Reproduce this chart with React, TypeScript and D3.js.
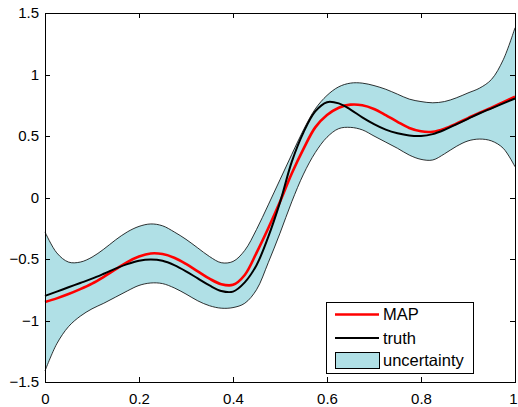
import React, { useEffect, useRef } from "react";
import * as d3 from "d3";

// sample positions along x
const xs = [
  0, 0.025, 0.05, 0.075, 0.1, 0.125, 0.15, 0.175, 0.2, 0.225, 0.25, 0.275, 0.3, 0.325,
  0.35, 0.375, 0.4, 0.425, 0.45, 0.475, 0.5, 0.525, 0.55, 0.575, 0.6, 0.625, 0.65,
  0.675, 0.7, 0.725, 0.75, 0.775, 0.8, 0.825, 0.85, 0.875, 0.9, 0.925, 0.95, 0.975, 1,
];

// MAP estimate (red)
const mapValues = [
  -0.85, -0.82, -0.785, -0.745, -0.7, -0.645, -0.585, -0.525, -0.48, -0.455, -0.46,
  -0.49, -0.54, -0.6, -0.66, -0.705, -0.71, -0.63, -0.45, -0.25, -0.035, 0.195, 0.395,
  0.57, 0.67, 0.73, 0.755, 0.75, 0.72, 0.67, 0.615, 0.565, 0.538, 0.535, 0.56, 0.6,
  0.645, 0.69, 0.73, 0.775, 0.82,
];

// true function (black)
const truthValues = [
  -0.8, -0.765, -0.73, -0.695, -0.66, -0.62, -0.578, -0.542, -0.515, -0.505, -0.515,
  -0.55, -0.6, -0.658, -0.715, -0.76, -0.765, -0.69, -0.55, -0.32, -0.04, 0.29, 0.53,
  0.7, 0.775, 0.765, 0.715, 0.652, 0.597, 0.552, 0.522, 0.504, 0.5, 0.515, 0.55, 0.595,
  0.64, 0.685, 0.725, 0.765, 0.805,
];

// uncertainty band
const upperValues = [
  -0.28, -0.45, -0.525, -0.525, -0.485, -0.42, -0.345, -0.28, -0.235, -0.215, -0.23,
  -0.28, -0.34, -0.41, -0.48, -0.53, -0.52, -0.43, -0.26, -0.06, 0.145, 0.35, 0.55,
  0.72, 0.83, 0.9, 0.93, 0.93, 0.91, 0.88, 0.84, 0.8, 0.78, 0.77, 0.78, 0.81, 0.85,
  0.89, 0.96, 1.12, 1.38,
];
const lowerValues = [
  -1.41, -1.19, -1.05, -0.965, -0.905, -0.86, -0.81, -0.76, -0.715, -0.695, -0.7,
  -0.735, -0.785, -0.84, -0.88, -0.9, -0.895, -0.86, -0.75, -0.53, -0.29, -0.035, 0.19,
  0.365, 0.49, 0.56, 0.57, 0.55, 0.5, 0.45, 0.4, 0.345, 0.31, 0.305, 0.355, 0.415, 0.46,
  0.475, 0.46, 0.4, 0.25,
];

const xTicks = [0, 0.2, 0.4, 0.6, 0.8, 1];
const yTicks = [-1.5, -1, -0.5, 0, 0.5, 1, 1.5];
const legendItems = ["MAP", "truth", "uncertainty"];

const App = () => {
  const chartRef = useRef<HTMLDivElement>(null);

  useEffect(() => {
    const width = 518;
    const height = 407;
    const margin = { top: 13, right: 3, bottom: 25, left: 45 };
    const innerW = width - margin.left - margin.right;
    const innerH = height - margin.top - margin.bottom;
    const font = "'Liberation Sans', Arial, Helvetica, sans-serif";
    const bandColor = "#b0e0e6";

    d3.select(chartRef.current).selectAll("*").remove();

    const svg = d3
      .select(chartRef.current)
      .append("svg")
      .attr("width", width)
      .attr("height", height)
      .style("display", "block")
      .append("g")
      .attr("transform", `translate(${margin.left},${margin.top})`);

    const x = d3.scaleLinear().domain([0, 1]).range([0, innerW]);
    const y = d3.scaleLinear().domain([-1.5, 1.5]).range([innerH, 0]);

    const idx = d3.range(xs.length);

    // uncertainty band
    const area = d3
      .area<number>()
      .x((i) => x(xs[i]))
      .y0((i) => y(lowerValues[i]))
      .y1((i) => y(upperValues[i]))
      .curve(d3.curveCatmullRom);

    svg.append("path").datum(idx).attr("d", area).attr("fill", bandColor);

    const edge = (vals: number[]) =>
      d3
        .line<number>()
        .x((i) => x(xs[i]))
        .y((i) => y(vals[i]))
        .curve(d3.curveCatmullRom);

    [upperValues, lowerValues].forEach((vals) => {
      svg
        .append("path")
        .datum(idx)
        .attr("d", edge(vals))
        .attr("fill", "none")
        .attr("stroke", "#000")
        .attr("stroke-width", 0.8);
    });

    // MAP and truth
    svg
      .append("path")
      .datum(idx)
      .attr("d", edge(mapValues))
      .attr("fill", "none")
      .attr("stroke", "#ff0000")
      .attr("stroke-width", 2.6);

    svg
      .append("path")
      .datum(idx)
      .attr("d", edge(truthValues))
      .attr("fill", "none")
      .attr("stroke", "#000")
      .attr("stroke-width", 2);

    // axes (MATLAB box with inward ticks)
    const styleAxis = (g: any) => {
      g.select(".domain").remove();
      g.selectAll("line").attr("stroke", "#000").attr("shape-rendering", "crispEdges");
      g.selectAll("text").attr("font-family", font).attr("font-size", 15).attr("fill", "#000");
    };

    const bottomAxis = svg
      .append("g")
      .attr("transform", `translate(0,${innerH})`)
      .call(
        d3
          .axisBottom(x)
          .tickValues(xTicks)
          .tickFormat((d) => d3.format("~g")(d as number))
          .tickSizeInner(-5)
          .tickSizeOuter(0)
          .tickPadding(11)
      )
      .call(styleAxis);

    // keep the last label inside the window
    bottomAxis
      .selectAll("text")
      .filter((d) => d === 1)
      .attr("dx", -2);

    svg
      .append("g")
      .call(
        d3
          .axisTop(x)
          .tickValues(xTicks)
          .tickFormat(() => "")
          .tickSizeInner(-5)
          .tickSizeOuter(0)
      )
      .call(styleAxis);

    svg
      .append("g")
      .call(
        d3
          .axisLeft(y)
          .tickValues(yTicks)
          .tickFormat((d) => d3.format("~g")(d as number).replace("-", "\u2212"))
          .tickSizeInner(-5)
          .tickSizeOuter(0)
          .tickPadding(6)
      )
      .call(styleAxis);

    svg
      .append("g")
      .attr("transform", `translate(${innerW},0)`)
      .call(
        d3
          .axisRight(y)
          .tickValues(yTicks)
          .tickFormat(() => "")
          .tickSizeInner(-5)
          .tickSizeOuter(0)
      )
      .call(styleAxis);

    svg
      .append("rect")
      .attr("x", 0)
      .attr("y", 0)
      .attr("width", innerW)
      .attr("height", innerH)
      .attr("fill", "none")
      .attr("stroke", "#000")
      .attr("stroke-width", 1)
      .attr("shape-rendering", "crispEdges");

    // legend
    const legend = svg
      .append("g")
      .attr("transform", `translate(${326 - margin.left},${302 - margin.top})`);

    legend
      .append("rect")
      .attr("width", 147)
      .attr("height", 71)
      .attr("fill", "#fff")
      .attr("stroke", "#000")
      .attr("stroke-width", 1)
      .attr("shape-rendering", "crispEdges");

    const rowY = [12.5, 36, 58];

    legend
      .append("line")
      .attr("x1", 9)
      .attr("x2", 53)
      .attr("y1", rowY[0])
      .attr("y2", rowY[0])
      .attr("stroke", "#ff0000")
      .attr("stroke-width", 2.6);

    legend
      .append("line")
      .attr("x1", 9)
      .attr("x2", 53)
      .attr("y1", rowY[1])
      .attr("y2", rowY[1])
      .attr("stroke", "#000")
      .attr("stroke-width", 2);

    legend
      .append("rect")
      .attr("x", 9.5)
      .attr("y", rowY[2] - 7.5)
      .attr("width", 44)
      .attr("height", 16)
      .attr("fill", bandColor)
      .attr("stroke", "#000")
      .attr("stroke-width", 1);

    legend
      .selectAll("text")
      .data(legendItems)
      .join("text")
      .attr("x", 57)
      .attr("y", (d, i) => rowY[i])
      .attr("dy", "0.35em")
      .attr("font-family", font)
      .attr("font-size", 16.5)
      .attr("fill", "#000")
      .text((d) => d);
  }, []);

  return (
    <div
      ref={chartRef}
      style={{ position: "absolute", left: 0, top: 0, width: 518, height: 407, background: "#fff" }}
    ></div>
  );
};

export default App;
